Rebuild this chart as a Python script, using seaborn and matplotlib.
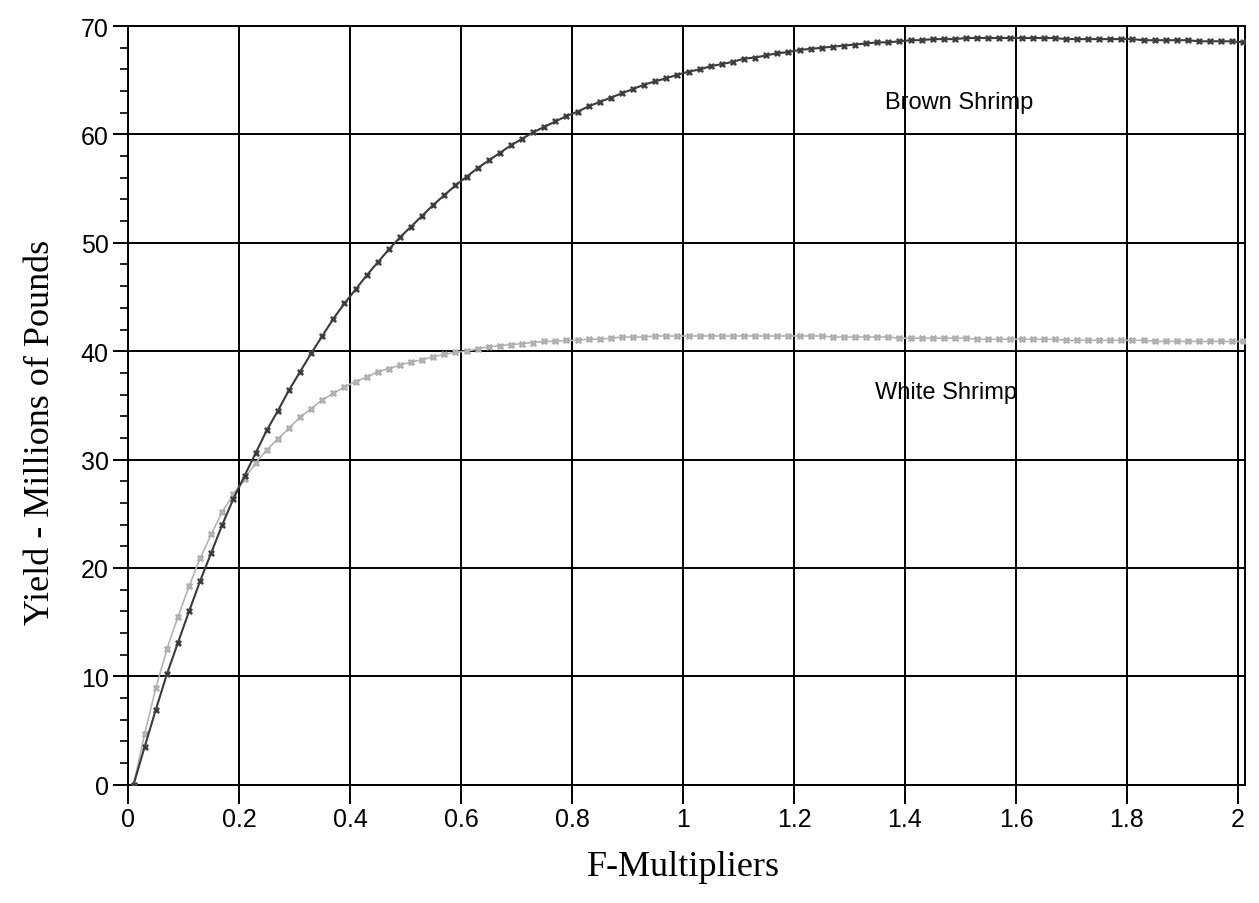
import numpy as np
import pandas as pd
import matplotlib
matplotlib.use("Agg")
import matplotlib.pyplot as plt
import seaborn as sns
from matplotlib.ticker import MultipleLocator

# F-multiplier positions as they sit in the picture (step 0.02, plotted ~0.01 right)
f_mult = [round(0.01 + 0.02 * i, 3) for i in range(101)]

# yields (millions of pounds)
brown = [0.0, 3.5, 6.9, 10.2, 13.1, 16.0, 18.8, 21.4, 24.0, 26.4,
         28.5, 30.6, 32.7, 34.5, 36.4, 38.1, 39.8, 41.4, 43.0, 44.4,
         45.7, 47.0, 48.2, 49.4, 50.5, 51.5, 52.5, 53.5, 54.4, 55.3,
         56.1, 56.9, 57.6, 58.3, 59.0, 59.6, 60.2, 60.7, 61.2, 61.7,
         62.1, 62.6, 63.0, 63.4, 63.8, 64.2, 64.6, 64.9, 65.2, 65.5,
         65.8, 66.0, 66.3, 66.5, 66.7, 67.0, 67.1, 67.3, 67.5, 67.6,
         67.8, 67.9, 68.0, 68.1, 68.2, 68.3, 68.4, 68.5, 68.5, 68.6,
         68.7, 68.7, 68.8, 68.8, 68.8, 68.9, 68.9, 68.9, 68.9, 68.9,
         68.9, 68.9, 68.9, 68.9, 68.8, 68.8, 68.8, 68.8, 68.8, 68.8,
         68.8, 68.7, 68.7, 68.7, 68.7, 68.7, 68.6, 68.6, 68.6, 68.6,
         68.5]

white = [0.0, 4.7, 8.9, 12.5, 15.5, 18.3, 20.9, 23.1, 25.2, 26.8,
         28.2, 29.7, 30.9, 31.9, 32.9, 33.9, 34.7, 35.5, 36.1, 36.7,
         37.2, 37.6, 38.1, 38.4, 38.7, 39.0, 39.2, 39.5, 39.7, 39.9,
         40.0, 40.2, 40.4, 40.5, 40.6, 40.7, 40.8, 40.9, 40.9, 41.0,
         41.0, 41.1, 41.1, 41.2, 41.3, 41.3, 41.3, 41.4, 41.4, 41.4,
         41.4, 41.4, 41.4, 41.4, 41.4, 41.4, 41.4, 41.4, 41.4, 41.4,
         41.4, 41.4, 41.4, 41.3, 41.3, 41.3, 41.3, 41.3, 41.3, 41.2,
         41.2, 41.2, 41.2, 41.2, 41.2, 41.2, 41.1, 41.1, 41.1, 41.1,
         41.1, 41.1, 41.1, 41.1, 41.0, 41.0, 41.0, 41.0, 41.0, 41.0,
         41.0, 41.0, 40.9, 40.9, 40.9, 40.9, 40.9, 40.9, 40.9, 40.9,
         40.9]

tick_pos = [0, 0.2, 0.4, 0.6, 0.8, 1.0, 1.2, 1.4, 1.6, 1.8, 2.0]
tick_lbl = ["0", "0.2", "0.4", "0.6", "0.8", "1", "1.2", "1.4", "1.6", "1.8", "2"]

df = pd.DataFrame({"F": f_mult, "Brown Shrimp": brown, "White Shrimp": white})

sns.set_style("white")
plt.rcParams['font.family'] = ['Liberation Sans', 'DejaVu Sans']
plt.rcParams.update({"text.color": "black", "axes.labelcolor": "black",
                     "xtick.color": "black", "ytick.color": "black"})

fig = plt.figure(figsize=(12.59, 9.04), dpi=100)
ax = fig.add_axes([0.1017, 0.131, 0.8873, 0.839])

sns.lineplot(data=df, x="F", y="White Shrimp", ax=ax, color="#b4b4b4",
             lw=1.2, marker="X", markersize=4.5, markeredgewidth=0.4,
             markeredgecolor="#9a9a9a", zorder=3)
sns.lineplot(data=df, x="F", y="Brown Shrimp", ax=ax, color="#3a3a3a",
             lw=1.5, marker="X", markersize=4.5, markeredgewidth=0.4,
             markeredgecolor="#555555", zorder=4)

ax.set_xlim(0, 2.013)
ax.set_ylim(0, 70)
ax.set_xticks(tick_pos)
ax.set_xticklabels(tick_lbl)
ax.yaxis.set_major_locator(MultipleLocator(10))
ax.yaxis.set_minor_locator(MultipleLocator(2))

ax.grid(True, which="major", color="black", lw=1.4)
ax.set_axisbelow(True)
for s in ax.spines.values():
    s.set_color("black")
    s.set_linewidth(1.4)

ax.tick_params(axis="both", which="major", direction="out", length=11, width=1.4,
               labelsize=18, pad=3, bottom=True, left=True)
ax.tick_params(axis="x", which="major", length=14, pad=2)
ax.tick_params(axis="y", which="minor", direction="out", length=6, width=1.2, left=True)
ax.tick_params(axis="x", which="minor", bottom=False)

ax.set_xlabel("F-Multipliers", family=["Liberation Serif"], fontsize=26)
ax.set_ylabel("Yield - Millions of Pounds", family=["Liberation Serif"], fontsize=26)
ax.xaxis.set_label_coords(0.497, -0.086)
ax.yaxis.set_label_coords(-0.064, 0.465)

ax.text(1.364, 63.0, "Brown Shrimp", fontsize=17, va="center", ha="left")
ax.text(1.346, 36.2, "White Shrimp", fontsize=17, va="center", ha="left")

fig.savefig("out.png", dpi=100)
